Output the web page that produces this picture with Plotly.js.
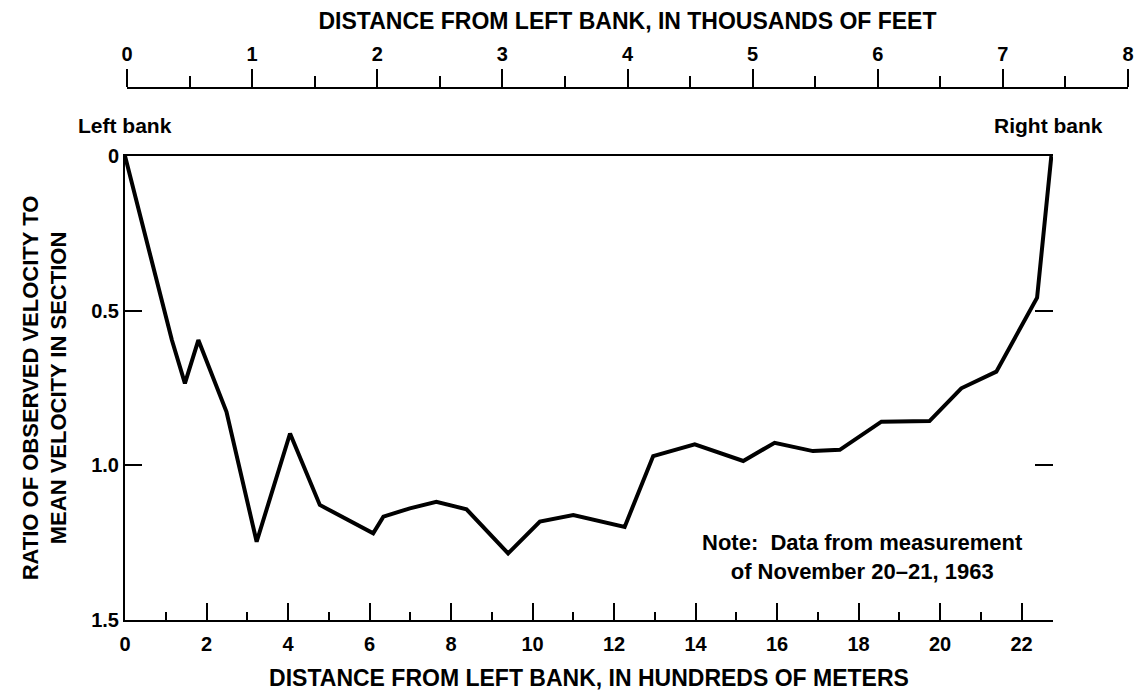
<!DOCTYPE html>
<html>
<head>
<meta charset="utf-8">
<script src="https://cdn.plot.ly/plotly-3.0.1.min.js"></script>
<style>html,body{margin:0;padding:0;background:#fff;}#chart{width:1142px;height:696px;}</style>
</head>
<body>
<div id="chart"></div>
<script>
// Distance from left bank, in hundreds of meters
const distanceHm = [0, 1.15, 1.47, 1.80, 2.49, 3.23, 4.05, 4.78, 6.09, 6.34, 6.99, 7.64, 8.38, 9.40, 10.18, 11.00, 12.26, 12.96, 13.98, 15.17, 15.94, 16.88, 17.54, 18.56, 19.74, 20.52, 21.38, 22.38, 22.73];
// Ratio of observed velocity to mean velocity in section
const velocityRatio = [0, 0.595, 0.735, 0.595, 0.827, 1.247, 0.897, 1.128, 1.220, 1.166, 1.139, 1.118, 1.142, 1.285, 1.182, 1.161, 1.199, 0.970, 0.932, 0.986, 0.927, 0.954, 0.950, 0.859, 0.857, 0.751, 0.697, 0.458, 0];

const yTickVals = [0, 0.5, 1.0, 1.5];
const yTickText = ['0', '0.5', '1.0', '1.5'];
const feetTickVals = [0, 1, 2, 3, 4, 5, 6, 7, 8];

const topTitle = 'DISTANCE FROM LEFT BANK, IN THOUSANDS OF FEET';
const bottomTitle = 'DISTANCE FROM LEFT BANK, IN HUNDREDS OF METERS';
const yTitle = 'RATIO OF OBSERVED VELOCITY TO<br>MEAN VELOCITY IN SECTION';
const noteText = 'Note:  Data from measurement<br>of November 20\u201321, 1963';

// same stations expressed in thousands of feet (for the top scale)
const distanceKft = distanceHm.map(d => d * 100 / 0.3048 / 1000);

const FONT = 'Liberation Sans, Arial, Helvetica, sans-serif';
const ink = '#000';

const mainTrace = {
  x: distanceHm, y: velocityRatio,
  type: 'scatter', mode: 'lines',
  line: {color: ink, width: 4},
  hoverinfo: 'x+y', showlegend: false
};
// invisible companions so the top scale and right-hand ticks are drawn
const feetTrace = {
  x: distanceKft, y: velocityRatio, xaxis: 'x2', yaxis: 'y',
  type: 'scatter', mode: 'lines', line: {width: 0, color: 'rgba(0,0,0,0)'},
  opacity: 0, hoverinfo: 'skip', showlegend: false
};
const rightTrace = {
  x: distanceHm, y: velocityRatio, xaxis: 'x', yaxis: 'y2',
  type: 'scatter', mode: 'lines', line: {width: 0, color: 'rgba(0,0,0,0)'},
  opacity: 0, hoverinfo: 'skip', showlegend: false
};

const bold = (s) => ({family: FONT, size: s, color: ink, weight: 'bold'});

const layout = {
  width: 1142,
  height: 696,
  margin: {l: 125, r: 14, t: 88, b: 76},
  paper_bgcolor: '#fff',
  plot_bgcolor: 'rgba(0,0,0,0)',
  showlegend: false,
  font: bold(20),
  xaxis: {
    domain: [0, 0.9252],
    range: [0, 22.77],
    anchor: 'y',
    showgrid: false, zeroline: false,
    showline: true, linewidth: 2, linecolor: ink, mirror: true,
    ticks: 'inside', ticklen: 17, tickwidth: 2, tickcolor: ink,
    tick0: 0, dtick: 2,
    minor: {dtick: 1, ticks: 'inside', ticklen: 8, tickwidth: 2, tickcolor: ink, showgrid: false},
    tickfont: bold(20),
    ticklabelstandoff: 5,
    title: {text: bottomTitle, font: bold(23), standoff: 16}
  },
  xaxis2: {
    domain: [0.002, 1],
    range: [0, 8],
    anchor: 'free',
    position: 1,
    side: 'top',
    showgrid: false, zeroline: false,
    showline: true, linewidth: 2, linecolor: ink,
    ticks: 'outside', ticklen: 18, tickwidth: 2, tickcolor: ink,
    tickvals: feetTickVals,
    minor: {dtick: 0.5, ticks: 'outside', ticklen: 11, tickwidth: 2, tickcolor: ink, showgrid: false},
    tickfont: bold(20),
    title: {text: topTitle, font: bold(23), standoff: 6}
  },
  yaxis: {
    domain: [0, 0.8722],
    range: [1.5, 0],
    anchor: 'x',
    showgrid: false, zeroline: false,
    showline: true, linewidth: 2, linecolor: ink,
    ticks: 'inside', ticklen: 17, tickwidth: 2, tickcolor: ink,
    tickvals: yTickVals, ticktext: yTickText,
    tickfont: bold(20),
    title: {text: yTitle, font: bold(22), standoff: 18}
  },
  yaxis2: {
    overlaying: 'y',
    side: 'right',
    anchor: 'x',
    range: [1.5, 0],
    showgrid: false, zeroline: false, showline: false,
    ticks: 'inside', ticklen: 18, tickwidth: 2, tickcolor: ink,
    tickvals: [0.5, 1.0],
    showticklabels: false
  },
  annotations: [
    {xref: 'paper', yref: 'paper', x: -0.049, y: 0.9286, xanchor: 'left', yanchor: 'middle',
     text: 'Left bank', showarrow: false, font: bold(21)},
    {xref: 'paper', yref: 'paper', x: 0.977, y: 0.9286, xanchor: 'right', yanchor: 'middle',
     text: 'Right bank', showarrow: false, font: bold(21)},
    {xref: 'paper', yref: 'paper', x: 0.735, y: 0.118, xanchor: 'center', yanchor: 'middle',
     text: noteText, showarrow: false, align: 'center', font: bold(22)}
  ]
};

Plotly.newPlot('chart', [mainTrace, feetTrace, rightTrace], layout, {displayModeBar: false, staticPlot: true});
</script>
</body>
</html>
